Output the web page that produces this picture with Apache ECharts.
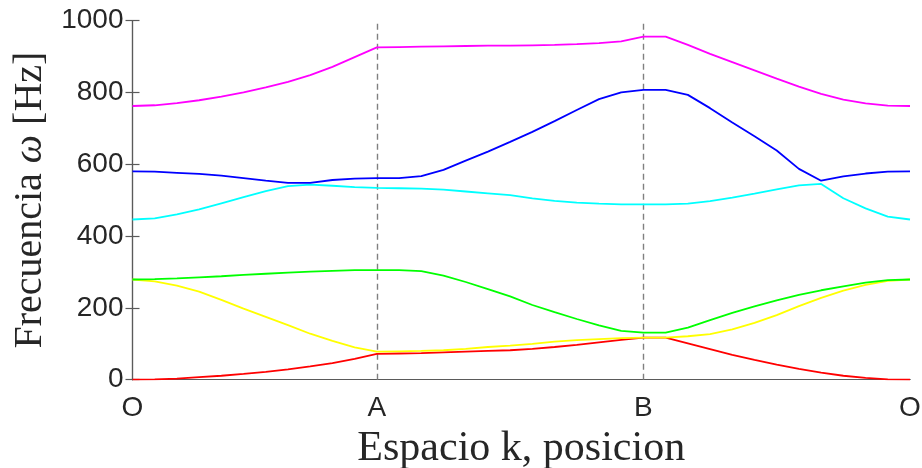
<!DOCTYPE html>
<html>
<head>
<meta charset="utf-8">
<script src="https://cdn.jsdelivr.net/npm/echarts@6.0.0/dist/echarts.min.js"></script>
<style>
  html, body { margin: 0; padding: 0; background: #fff; }
  #chart { width: 922px; height: 468px; }
</style>
</head>
<body>
<div id="chart"></div>
<script>
// k path: O -> A -> B -> O, sampled at 36 points
let tickPos = [0, 11, 23, 35];
let tickNames = ['O', 'A', 'B', 'O'];
let yTicks = [0, 200, 400, 600, 800, 1000];

let band1 = [0, 1, 3, 7, 11, 16, 22, 29, 37, 46, 58, 72, 73, 74, 76, 78, 80, 82, 86, 91, 97, 104, 111, 117, 117, 101, 85, 69, 55, 42, 30, 20, 11, 5, 1, 0];
let band2 = [279, 274, 262, 245, 222, 198, 175, 152, 128, 108, 90, 78, 79, 80, 82, 86, 91, 95, 100, 106, 110, 113, 116, 117, 117, 121, 127, 140, 158, 180, 205, 228, 248, 264, 275, 279];
let band3 = [279, 280, 282, 285, 288, 292, 295, 298, 301, 303, 305, 305, 305, 302, 290, 272, 252, 232, 208, 188, 169, 151, 136, 131, 131, 145, 166, 186, 204, 221, 236, 249, 260, 270, 277, 279];
let band4 = [446, 449, 460, 474, 491, 508, 525, 539, 543, 540, 536, 534, 533, 532, 529, 524, 519, 514, 505, 498, 493, 490, 488, 488, 488, 490, 497, 507, 518, 530, 541, 545, 505, 477, 454, 446];
let band5 = [580, 579, 576, 573, 568, 561, 554, 548, 548, 556, 560, 561, 561, 567, 584, 610, 635, 662, 690, 720, 751, 781, 800, 807, 807, 793, 756, 716, 678, 638, 587, 554, 566, 574, 579, 580];
let band6 = [762, 764, 770, 778, 788, 800, 814, 829, 848, 871, 898, 925, 926, 927, 928, 929, 930, 930, 931, 932, 934, 937, 942, 955, 955, 932, 907, 884, 861, 838, 816, 796, 780, 769, 763, 762];

let bands = [band1, band2, band3, band4, band5, band6];
let bandColors = ['#ff0000', '#ffff00', '#00ff00', '#00ffff', '#0000ff', '#ff00ff'];

let axisColor = '#5a5a5a';
let textColor = '#262626';

function toPoints(vals) {
    return vals.map((v, i) => [i, v]);
}

let chart = echarts.init(document.getElementById('chart'));

let series = bands.map((b, i) => ({
    type: 'line',
    data: toPoints(b),
    showSymbol: false,
    smooth: false,
    lineStyle: { color: bandColors[i], width: 1.8 },
    z: 3 + i,
    animation: false
}));

series[0].markLine = {
    silent: true,
    symbol: 'none',
    label: { show: false },
    lineStyle: { color: '#808080', type: [6, 4], width: 1.4 },
    data: [{ xAxis: tickPos[1] }, { xAxis: tickPos[2] }],
    z: 2
};

let tickStyle = { show: true, inside: true, length: 7, lineStyle: { color: axisColor, width: 1.2 } };

let option = {
    animation: false,
    grid: { left: 132.5, right: 12, top: 20.5, bottom: 88.3, containLabel: false, outerBoundsMode: 'none' },
    xAxis: [
        {
            type: 'value',
            min: 0,
            max: 35,
            position: 'bottom',
            name: 'Espacio k, posicion',
            nameLocation: 'middle',
            nameGap: 46,
            nameTextStyle: { fontFamily: 'Liberation Serif', fontSize: 42, color: textColor },
            axisLine: { show: true, lineStyle: { color: axisColor, width: 1.2 } },
            axisTick: { show: false },
            splitLine: { show: false },
            axisLabel: {
                customValues: tickPos,
                formatter: (v) => tickNames[tickPos.indexOf(v)],
                fontFamily: 'Liberation Sans',
                fontSize: 28,
                color: textColor,
                margin: 15
            }
        },
        {
            type: 'value',
            min: 0,
            max: 35,
            position: 'top',
            axisLine: { show: true, lineStyle: { color: axisColor, width: 1.2 } },
            axisTick: { show: false },
            axisLabel: { show: false },
            splitLine: { show: false }
        }
    ],
    yAxis: [
        {
            type: 'value',
            min: 0,
            max: 1000,
            interval: 200,
            position: 'left',
            name: '{n|Frecuencia }{w|ω}{n| [Hz]}',
            nameLocation: 'middle',
            nameGap: 82,
            nameTextStyle: {
                rich: {
                    n: { fontFamily: 'Liberation Serif', fontSize: 40, color: textColor },
                    w: { fontFamily: 'Liberation Serif', fontStyle: 'italic', fontSize: 40, color: textColor }
                }
            },
            axisLine: { show: true, lineStyle: { color: axisColor, width: 1.2 } },
            axisTick: tickStyle,
            splitLine: { show: false },
            axisLabel: {
                formatter: (v) => String(v),
                fontFamily: 'Liberation Sans',
                fontSize: 28,
                color: textColor,
                margin: 9
            }
        },
        {
            type: 'value',
            min: 0,
            max: 1000,
            interval: 200,
            position: 'right',
            axisLine: { show: true, lineStyle: { color: axisColor, width: 1.2 } },
            axisTick: tickStyle,
            axisLabel: { show: false },
            splitLine: { show: false }
        }
    ],
    series: series
};

chart.setOption(option);
</script>
</body>
</html>
